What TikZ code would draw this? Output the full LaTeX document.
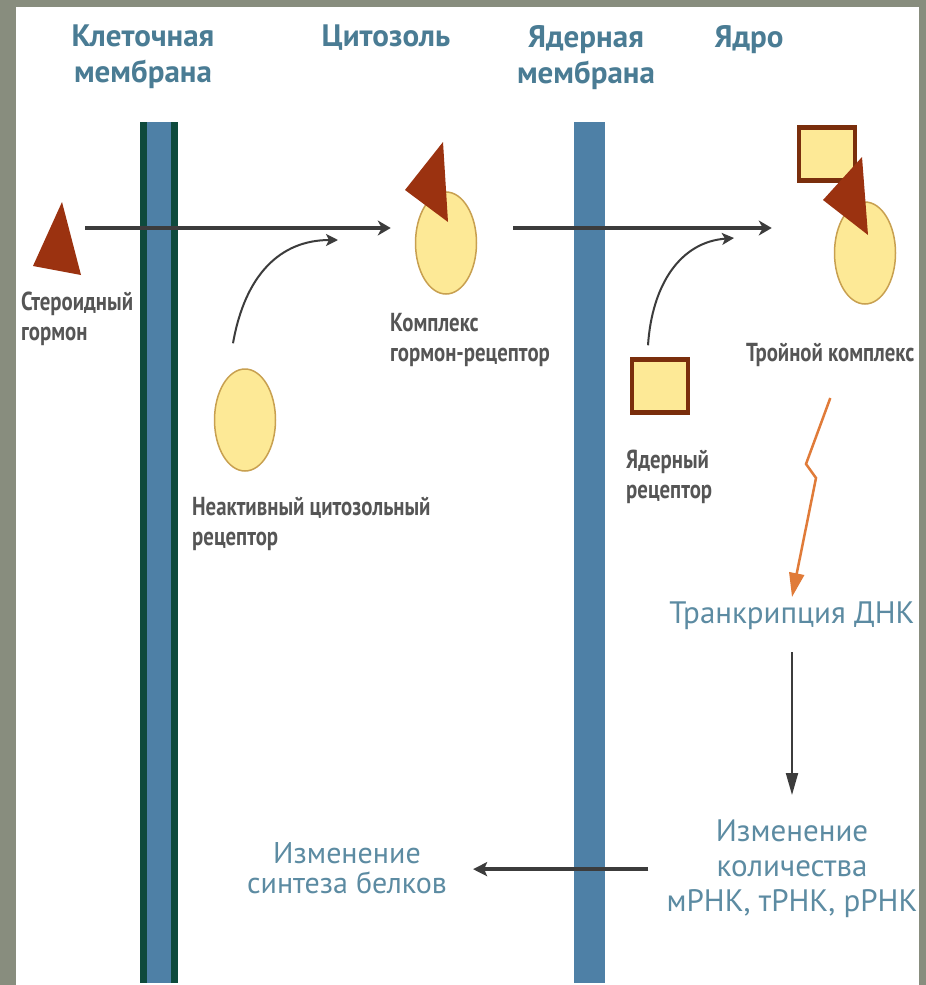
\documentclass[tikz,border=0pt]{standalone}
\usepackage{fontspec}
\setmainfont{PT Sans}
\newfontfamily\narrowsans[FakeStretch=0.8]{PT Sans}
\usetikzlibrary{positioning, arrows.meta, shapes.geometric}
\definecolor{bggray}{RGB}{136,141,126}
\definecolor{headblue}{RGB}{74,124,148}
\definecolor{lowblue}{RGB}{92,139,162}
\definecolor{labelgray}{RGB}{85,85,85}
\definecolor{membblue}{RGB}{78,128,166}
\definecolor{membgreen}{RGB}{14,74,60}
\definecolor{hormred}{RGB}{155,50,16}
\definecolor{rectbrown}{RGB}{122,46,12}
\definecolor{cellyellow}{RGB}{253,233,150}
\definecolor{cellrim}{RGB}{200,160,80}
\definecolor{signalorange}{RGB}{224,123,57}
\definecolor{arrowgray}{RGB}{60,60,60}
\begin{document}
\begin{tikzpicture}[x=1pt, y=-1pt,
    header/.style={font=\bfseries\fontsize{31}{36}\selectfont, text=headblue,
                   align=center, inner sep=0pt, anchor=north},
    lbl/.style={font=\narrowsans\bfseries\fontsize{26}{30}\selectfont, text=labelgray,
                align=left, inner sep=0pt, anchor=north west},
    result/.style={font=\fontsize{31}{35}\selectfont, text=lowblue,
                   align=center, inner sep=0pt, anchor=north},
    cell/.style={ellipse, draw=cellrim, fill=cellyellow, line width=1.5pt,
                 minimum width=61pt, minimum height=102pt, inner sep=0pt},
    nucbox/.style={draw=rectbrown, fill=cellyellow, line width=4.5pt,
                   minimum width=56pt, minimum height=53pt, inner sep=0pt},
    hormone/.style={fill=hormred},
    flowarr/.style={-{Stealth[length=13pt,width=15pt,inset=4pt]}, line width=4pt, draw=arrowgray},
    curvearr/.style={-{Stealth[length=12pt,width=12pt,inset=3pt]}, line width=2pt, draw=arrowgray},
    droparr/.style={-{Triangle[length=22pt,width=12pt]}, line width=2pt, draw=arrowgray},
    backarr/.style={-{Stealth[length=14pt,width=14pt,inset=3pt]}, line width=3.5pt, draw=arrowgray},
    sparkarr/.style={-{Triangle[length=24pt,width=15pt]}, line width=2.5pt, draw=signalorange,
                  line join=miter},
  ]
    \useasboundingbox (0,0) rectangle (926,985);
    \fill[bggray] (0,0) rectangle (926,985);
    \fill[white] (16,7) rectangle (919,985);

    %% membranes
    \fill[membgreen] (140,122) rectangle (178,983);
    \fill[membblue]  (147,122) rectangle (171,983);
    \fill[membblue]  (574,122) rectangle (605,983);

    %% column headers
    \node[header] (cellmem) at (143,25) {Клеточная\\мембрана};
    \node[header] (cytosol) at (386,25) {Цитозоль};
    \node[header] (nucmem)  at (586,25) {Ядерная\\мембрана};
    \node[header] (nucleus) at (749,25) {Ядро};

    %% molecules
    \fill[hormone] (62,202) -- (33,266) -- (81,275) -- cycle;
    \node[cell] (freceptor) at (245,420) {};
    \node[cell] (complex)   at (446,243) {};
    \fill[hormone] (443,142) -- (405,190) -- (448,222) -- cycle;
    \node[nucbox] (nreceptor) at (660,386) {};
    \node[nucbox] (tbox)      at (827,154) {};
    \node[cell]   (tcomplex)  at (865,253) {};
    \fill[hormone] (862,157) -- (823,200) -- (868,235) -- cycle;

    %% labels
    \node[lbl] (hormlbl)    at (21,292)  {Стероидный\\гормон};
    \node[lbl] (freclbl)    at (192,497) {Неактивный цитозольный\\рецептор};
    \node[lbl] (complexlbl) at (390,313) {Комплекс\\гормон-рецептор};
    \node[lbl] (nreclbl)    at (626,450) {Ядерный\\рецептор};
    \node[lbl] (tlabel)     at (746,343) {Тройной комплекс};

    \node[result] (transc)  at (792,602) {Транкрипция ДНК};
    \node[result] (change)  at (792,820) {Изменение\\количества\\мРНК, тРНК, рРНК};
    \node[result, font=\fontsize{30}{30}\selectfont] (protein) at (347,842)
      {Изменение\\синтеза белков};

    %% arrows
    \coordinate (hormout) at (85,228);
    \coordinate (nucin)   at (513,228);
    \coordinate (dock1)   at (338,240);
    \coordinate (dock2)   at (734,238);
    \coordinate (zigA)    at (806,464);
    \coordinate (zigB)    at (816,478);
    \draw[flowarr, shorten >=24pt] (hormout) -- (hormout -| complex.west);
    \draw[flowarr, shorten >=62pt] (nucin) -- (nucin -| tcomplex.west);
    \draw[curvearr] ([xshift=-12pt,yshift=25pt]freceptor.north)
      .. controls (245,275) and (280,240) .. (dock1);
    \draw[curvearr] ([xshift=-12pt,yshift=12pt]nreceptor.north)
      .. controls (652,285) and (680,242) .. (dock2);
    \draw[sparkarr] (tlabel.south |- 0,398) -- (zigA) -- (zigB)
      -- ([yshift=5pt]transc.north);
    \draw[droparr, shorten <=22pt, shorten >=25pt] (transc.south) -- (change.north);
    \draw[backarr, shorten <=18pt, shorten >=26pt] (change.west) -- (change.west -| protein.east);
\end{tikzpicture}
\end{document}
